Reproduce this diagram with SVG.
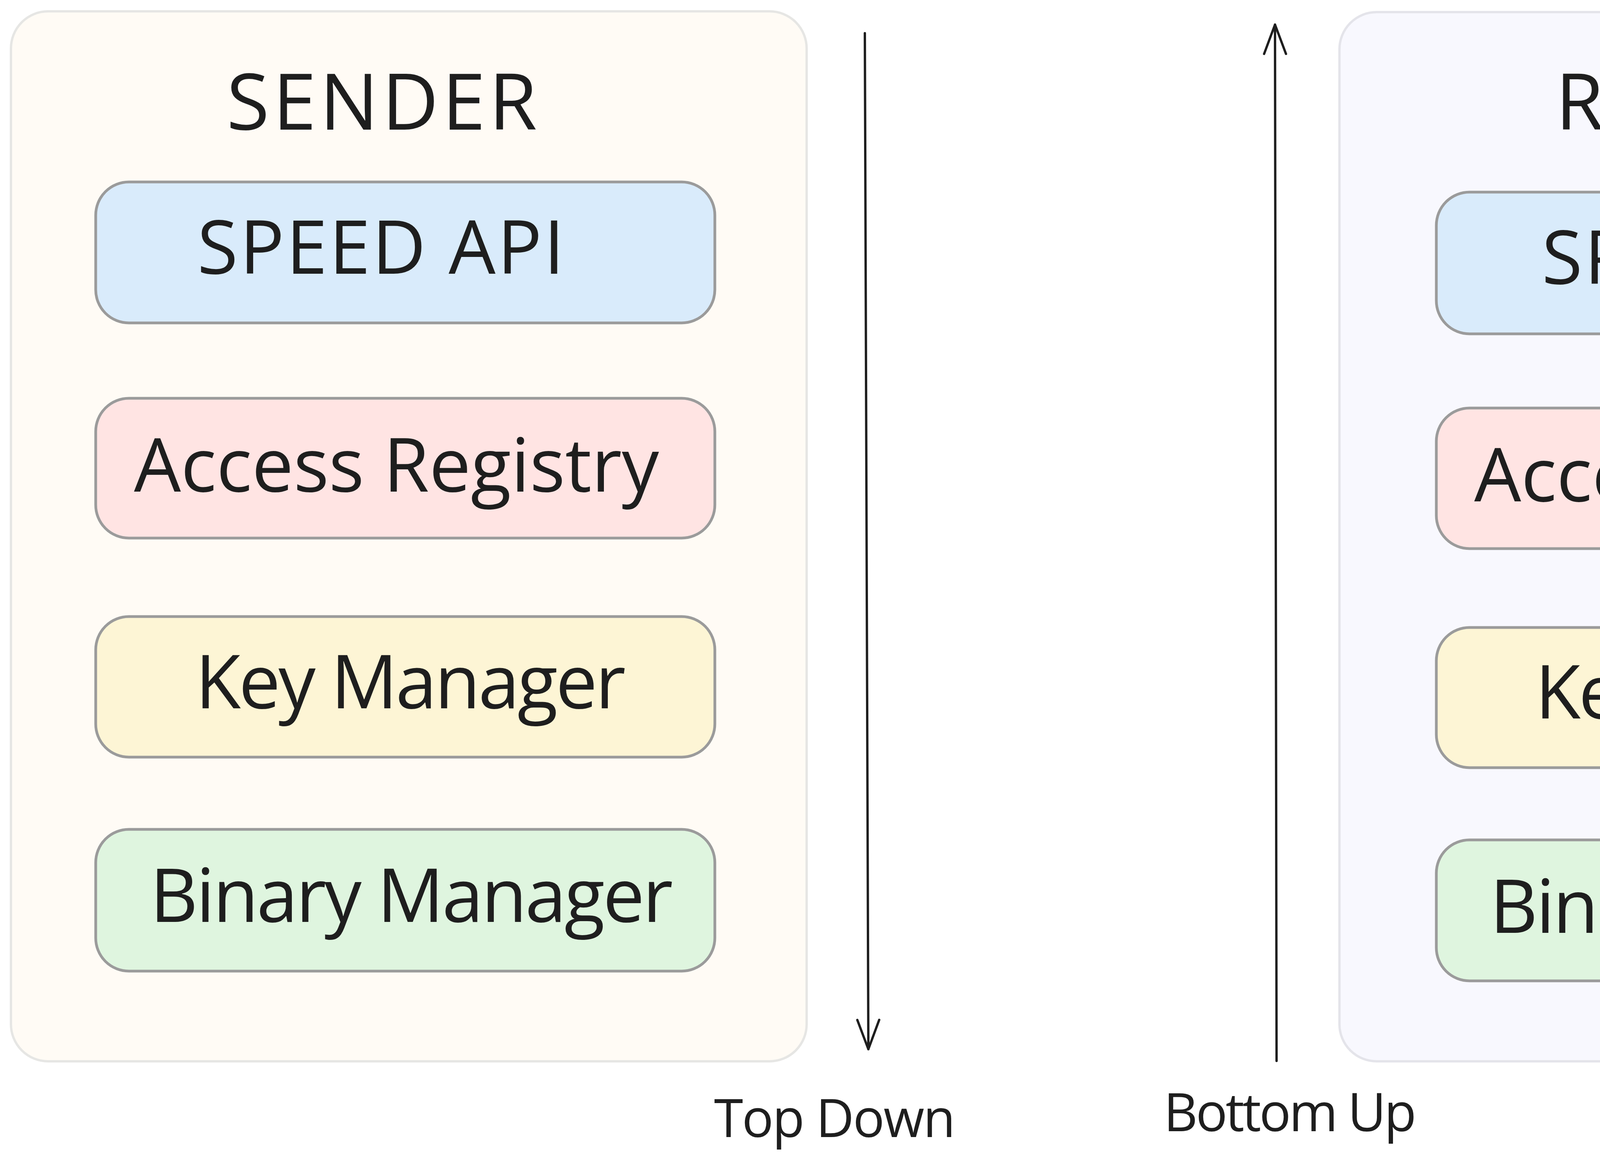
<svg xmlns="http://www.w3.org/2000/svg" width="5496" height="2981" viewBox="0 0 5496 2981">
<style>
  .t { font-family: "Open Sans", "Noto Sans", "Liberation Sans", sans-serif; fill: #1e1e1e; }
  .title { font-size: 200px; }
  .lbl { font-size: 190px; }
  .cap { font-size: 135px; }
  .cont { stroke-width: 6; }
  .node { stroke: #9b9b9b; stroke-width: 7; }
  .blue { fill: #d9ebfb; }
  .pink { fill: #ffe4e3; }
  .yellow { fill: #fdf5d5; }
  .green { fill: #dff5df; }
  .conn { stroke: #1e1e1e; stroke-width: 6; fill: none; stroke-linecap: round; }
</style>
<defs>
  <marker id="arrow" markerUnits="userSpaceOnUse" viewBox="0 0 90 70" markerWidth="90" markerHeight="70" refX="80" refY="35" orient="auto">
    <path d="M 5 7 L 80 35 L 5 63" fill="none" stroke="#1e1e1e" stroke-width="6" stroke-linecap="round" stroke-linejoin="round"/>
  </marker>
</defs>
<rect width="5496" height="2981" fill="#ffffff"/>

<g id="sender">
  <rect class="cont" x="28" y="29" width="2037" height="2689" rx="95" fill="#fffbf5" stroke="#e6e6e4"/>
  <text class="t title" x="580" y="332" textLength="795">SENDER</text>
</g>
<g id="receiver">
  <rect class="cont" x="3429" y="31" width="2037" height="2687" rx="95" fill="#f8f8fe" stroke="#e4e4ea"/>
  <text class="t title" x="3982" y="332" textLength="943">RECIEVER</text>
</g>

<g id="sender-speed-api">
  <rect class="node blue" x="245" y="466" width="1585" height="361" rx="85"/>
  <text class="t lbl" x="505" y="701" textLength="940">SPEED API</text>
</g>
<g id="sender-access-registry">
  <rect class="node pink" x="245" y="1020" width="1585" height="358" rx="85"/>
  <text class="t lbl" x="343" y="1259" textLength="1344">Access Registry</text>
</g>
<g id="sender-key-manager">
  <rect class="node yellow" x="245" y="1579" width="1585" height="360" rx="85"/>
  <text class="t lbl" x="500" y="1814" textLength="1102">Key Manager</text>
</g>
<g id="sender-binary-manager">
  <rect class="node green" x="245" y="2124" width="1585" height="363" rx="85"/>
  <text class="t lbl" x="384" y="2361" textLength="1339">Binary Manager</text>
</g>

<g id="receiver-speed-api">
  <rect class="node blue" x="3677" y="492" width="1588" height="363" rx="85"/>
  <text class="t lbl" x="3947" y="727" textLength="943">SPEED API</text>
</g>
<g id="receiver-access-registry">
  <rect class="node pink" x="3677" y="1045" width="1588" height="360" rx="85"/>
  <text class="t lbl" x="3774" y="1284" textLength="1343">Access Registry</text>
</g>
<g id="receiver-key-manager">
  <rect class="node yellow" x="3677" y="1607" width="1588" height="359" rx="85"/>
  <text class="t lbl" x="3930" y="1840" textLength="1104">Key Manager</text>
</g>
<g id="receiver-binary-manager">
  <rect class="node green" x="3677" y="2151" width="1588" height="361" rx="85"/>
  <text class="t lbl" x="3814" y="2389" textLength="1342">Binary Manager</text>
</g>

<g id="connectors">
  <path class="conn" d="M 2214 85 L 2223 2687" marker-end="url(#arrow)"/>
  <path class="conn" d="M 3268 2717 L 3264 63" marker-end="url(#arrow)"/>
</g>

<g id="top-down-label">
  <text class="t cap" x="1828" y="2912" textLength="618">Top Down</text>
</g>
<g id="bottom-up-label">
  <text class="t cap" x="2979" y="2897" textLength="647">Bottom Up</text>
</g>
</svg>
